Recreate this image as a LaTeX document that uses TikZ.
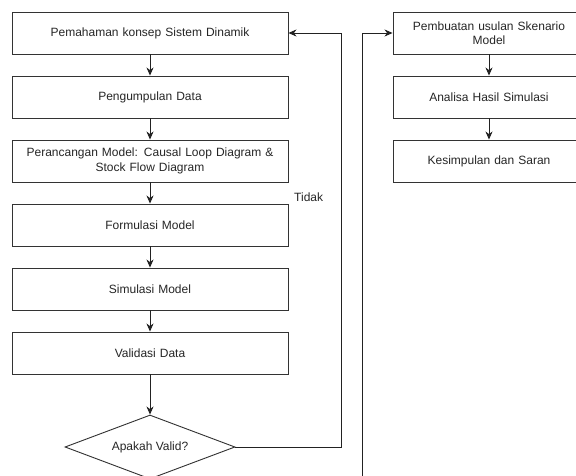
\documentclass[tikz,border=0pt]{standalone}
\usepackage{fontspec}
\setmainfont{Liberation Sans}
\usetikzlibrary{shapes.geometric,arrows.meta}
\definecolor{edge}{HTML}{333333}
\definecolor{linec}{HTML}{222222}
\tikzset{
  box/.style={draw=edge,line width=0.9pt,fill=white,minimum height=42pt,inner sep=2pt,align=center,font=\fontsize{12}{14.5}\selectfont,text=black!85},
  lbox/.style={box,minimum width=276pt,text width=270pt},
  rbox/.style={box,minimum width=192pt,text width=186pt},
  dec/.style={draw=edge,line width=0.9pt,diamond,aspect=2.656,minimum width=170pt,minimum height=64pt,inner sep=0pt,font=\fontsize{12}{14.5}\selectfont,text=black!85},
  conn/.style={draw=linec,line width=0.9pt,-{Stealth[length=8pt,width=7pt,inset=2.5pt]}},
  lbl/.style={font=\fontsize{12}{14.5}\selectfont,text=black!85,inner sep=0pt,anchor=base west}
}
\begin{document}
\begin{tikzpicture}[x=1pt,y=-1pt]
\clip (0,0) rectangle (576,476);
\fill[white] (0,0) rectangle (576,476);
\node[lbox] (b1) at (150,33) {Pemahaman konsep Sistem Dinamik};
\node[lbox] (b2) at (150,97) {Pengumpulan Data};
\node[lbox] (b3) at (150,161) {Perancangan Model: Causal Loop Diagram \&\\Stock Flow Diagram};
\node[lbox] (b4) at (150,225) {Formulasi Model};
\node[lbox] (b5) at (150,289) {Simulasi Model};
\node[lbox] (b6) at (150,353) {Validasi Data};
\node[dec] (d) at (150,447) {Apakah Valid?};
\node[rbox] (r1) at (489,33) {Pembuatan usulan Skenario\\Model};
\node[rbox] (r2) at (489,97) {Analisa Hasil Simulasi};
\node[rbox] (r3) at (489,161) {Kesimpulan dan Saran};
\coordinate (c1) at (341,447);
\coordinate (c2) at (341,33);
\coordinate (c3) at (150,500);
\coordinate (c4) at (362,500);
\coordinate (c5) at (362,33);
\draw[conn] (b1) -- (b2);
\draw[conn] (b2) -- (b3);
\draw[conn] (b3) -- (b4);
\draw[conn] (b4) -- (b5);
\draw[conn] (b5) -- (b6);
\draw[conn] (b6) -- (d);
\draw[conn] (r1) -- (r2);
\draw[conn] (r2) -- (r3);
\draw[conn] (d.east) -- (c1) -- (c2) -- (b1.east);
\draw[conn] (d.south) -- (c3) -- (c4) -- (c5) -- (r1.west);
\node[lbl] (t) at (294,202) {Tidak};
\end{tikzpicture}
\end{document}
